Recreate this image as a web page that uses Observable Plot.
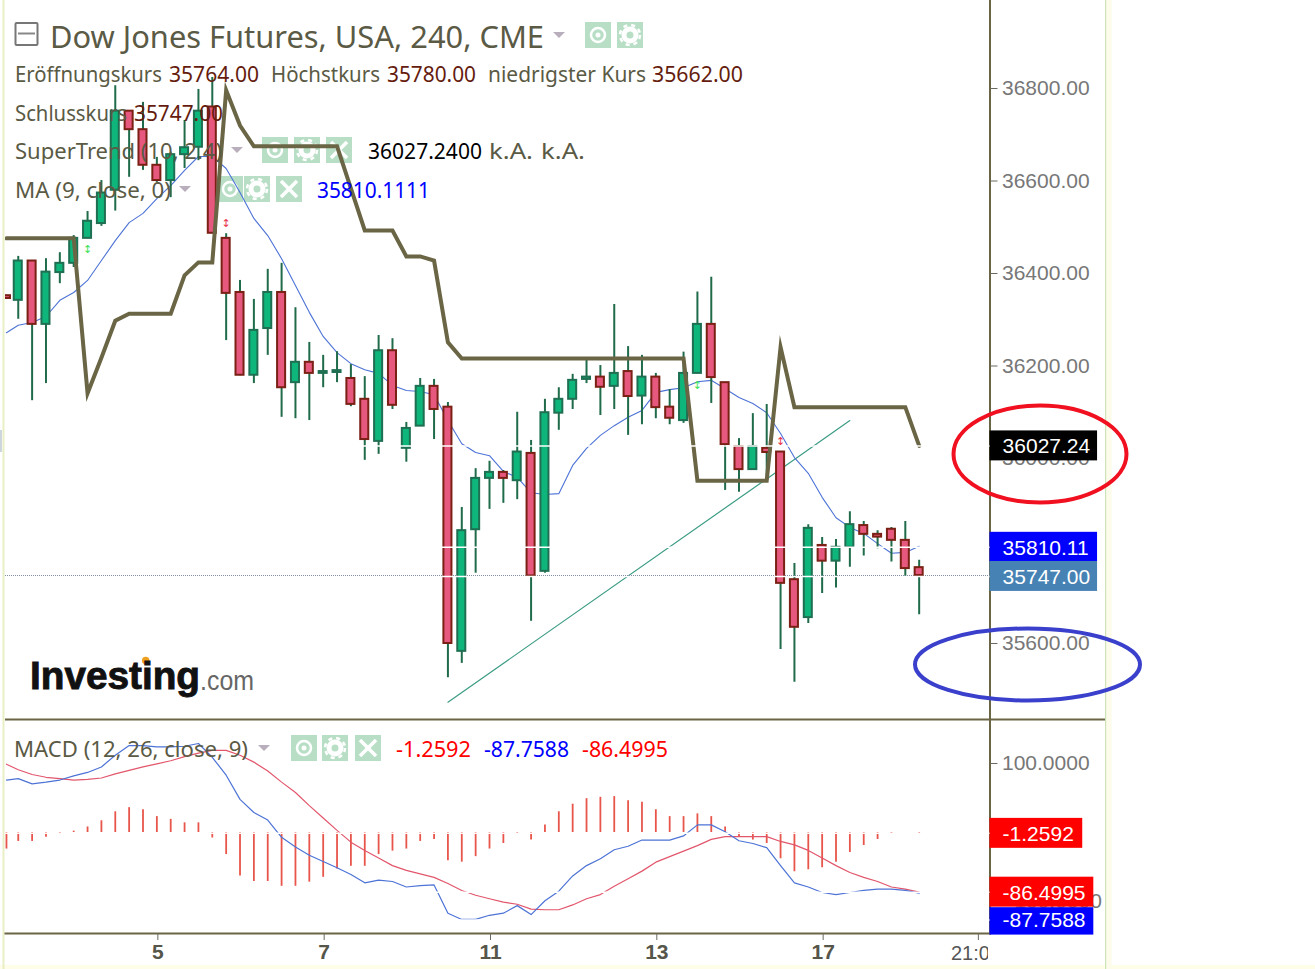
<!DOCTYPE html>
<html>
<head>
<meta charset="utf-8">
<script src="https://cdn.jsdelivr.net/npm/d3@7"></script>
<script src="https://cdn.jsdelivr.net/npm/@observablehq/plot@0.6"></script>
<style>
html,body{margin:0;padding:0;background:#fff;}
#page{position:relative;width:1315px;height:969px;overflow:hidden;background:#fff;}
#page>*{position:absolute;left:0;}
.t{position:absolute;white-space:pre;line-height:1;transform-origin:left center;}
</style>
</head>
<body>
<div id="page"></div>
<script>
// Candle index: 0 is the bar at tick "5"; 12 bars per labelled tick. The first bar sits at the chart's cut-off edge.
const barIndex = [-10.85].concat(d3.range(-10, 56));
const opens = [36352,36342,36427,36290,36402,36422,36476,36508,36580,36751,36711,36634,36601,36657,36673,36760,36476,36359,36180,36281,36359,36164,36208,36184,36186,36173,36128,36037,36233,36022,36070,36156,36111,35583,35846,35957,35970,35952,36011,35756,36098,36128,36171,36176,36156,36188,36135,36176,36111,36082,36184,36290,36164,36026,35976,36022,36014,35738,35656,35812,35778,35808,35855,35836,35847,35823,35764];
const highs = [36353,36437,36428,36432,36445,36482,36534,36601,36806,36752,36770,36651,36662,36731,36798,36824,36486,36385,36344,36409,36422,36326,36251,36223,36231,36203,36177,36266,36259,36078,36173,36171,36121,35894,35978,35994,35974,36100,36039,36128,36153,36182,36216,36201,36333,36242,36223,36184,36149,36230,36360,36392,36164,36043,36097,36117,36014,35773,35857,35829,35825,35885,35864,35844,35851,35864,35780];
const lows = [36345,36301,36125,36162,36378,36413,36476,36502,36535,36608,36623,36597,36564,36627,36644,36486,36255,36179,36162,36223,36089,36086,36082,36153,36164,36112,35996,36009,36106,35992,36070,36041,35526,35557,35752,35890,35903,35911,35648,35752,36061,36106,36162,36093,36106,36050,36073,36086,36073,36076,36184,36119,35931,35927,35976,35952,35587,35516,35643,35708,35720,35765,35789,35805,35776,35745,35662];
const closes = [36346,36427,36290,36403,36422,36476,36513,36574,36751,36711,36634,36601,36657,36672,36751,36487,36357,36180,36277,36359,36153,36208,36184,36188,36190,36117,36041,36233,36115,36065,36156,36106,35600,35844,35957,35970,35957,36014,35746,36099,36128,36169,36176,36154,36184,36134,36176,36110,36087,36184,36290,36175,36030,35976,36026,36013,35730,35635,35849,35778,35808,35857,35836,35830,35823,35762,35747];
const superTrend = [36476,36476,36476,36476,36476,36476,36141,36218,36298,36313,36313,36313,36313,36396,36424,36424,36796,36720,36675,36675,36675,36675,36675,36675,36675,36584,36493,36493,36493,36437,36437,36428,36251,36216,36216,36216,36216,36216,36216,36216,36216,36216,36216,36216,36216,36216,36216,36216,36216,36216,35952,35952,35952,35952,35952,35952,36241,36111,36111,36111,36111,36111,36111,36111,36111,36111,36027.24];
const movingAvg = [36272,36288,36294,36307,36342,36359,36385,36428,36471,36510,36530,36562,36590,36623,36653,36653,36627,36575,36519,36482,36432,36374,36316,36264,36229,36205,36192,36184,36158,36147,36145,36138,36082,36032,36013,36006,35972,35959,35926,35922,35924,35985,36022,36050,36071,36089,36104,36143,36149,36153,36166,36169,36151,36132,36119,36099,36054,36002,35968,35916,35872,35851,35838,35816,35795,35797,35810.11];
const macdLine = [76,78,70.5,73,76,82,87,95,112,126,126,124,124,125,129,109,83,48,29,18,-7,-21,-33,-42,-51,-61,-73,-69,-71,-79,-77,-76,-117,-126,-126,-120,-117,-106,-119,-99,-85,-63,-48,-38,-25,-20,-11,-11,-11,-5,11,11,1,-12,-16,-22,-48,-73,-79,-87,-90,-87,-84,-82,-82,-84,-87.7588];
const signalLine = [99,91,84,80,78,76,77,79,85,90,95,99.5,104,110,115,119,119,112,102,89,73,58,39,21,3,-14,-26,-37,-48,-55,-60,-65,-74,-84,-91,-96,-101,-104,-111,-112,-112,-105,-96,-90,-78,-67,-56,-43,-35,-27,-19,-10,-6,-6,-6,-6,-13,-18,-26,-37,-48,-58,-65,-71,-79,-82,-86.4995];
const histogram = [-24,-13,-13,-7,-3,2,8,17,30,36,33,23,19,14,14,-8,-32,-63,-71,-71,-78,-78,-72,-65,-53,-49,-49,-32,-27,-24,-13,-10,-41,-43,-35,-24,-16,-2,-11,11,30,41,49,51,52,46,44,33,23,23,27,23,8,-6,-11,-16,-38,-57,-54,-51,-43,-29,-19,-10,-3,0,-2.5];
const trendLine = [{i:21,p:35473},{i:50,p:36082}];
const arrowsUp = [{i:-5,p:36452},{i:39,p:36158}];
const arrowsDown = [{i:5,p:36509},{i:45,p:36037}];
const priceTicks = [36800,36600,36400,36200,36000,35600];
const macdTicks = [100,-100];
const lastPrice = 35747;
const priceBadges = [
  {label:"36027.24",slot:36027.24,color:"#000000",end:67.87},
  {label:"35810.11",slot:35808,color:"#0000ff",end:67.87},
  {label:"35747.00",slot:35745,color:"#4682b4",end:67.87}
];
const macdBadges = [
  {label:"-1.2592",slot:-1.2592,color:"#ff0000",end:66.8},
  {label:"-86.4995",slot:-86.4995,color:"#ff0000",end:67.6},
  {label:"-87.7588",slot:-127,color:"#0000ff",end:67.6}
];
const timeTicks = [0,12,24,36,48,59.2];
const timeLabels = ["5","7","11","13","17",""];

const candles = barIndex.map((i,k)=>({i,open:opens[k],high:highs[k],low:lows[k],close:closes[k],st:superTrend[k],ma:movingAvg[k],macd:macdLine[k],sig:signalLine[k],hist:histogram[k]}));
const up = candles.filter(d=>d.close>=d.open);
const down = candles.filter(d=>d.close<d.open);

const sans = "'Liberation Sans', Arial, sans-serif";
const xDomain = [-10.92,60.11];
const bodyHalf = 0.29;
const page = document.getElementById("page");

// --- layer 1: legend chrome under the chart
const under = d3.select(page).append("svg").attr("width",1315).attr("height",969).style("top","0");
under.append("rect").attr("x",0).attr("y",965).attr("width",1315).attr("height",4).attr("fill","#fdfde8");
under.append("rect").attr("x",2.5).attr("y",0).attr("width",2).attr("height",969).attr("fill","#e9efc4");
under.append("rect").attr("x",0).attr("y",430).attr("width",2).attr("height",22).attr("fill","#ccd6dc");
under.append("rect").attr("x",1105).attr("y",0).attr("width",1.5).attr("height",969).attr("fill","#cfe3b8");
under.append("rect").attr("x",1106.5).attr("y",0).attr("width",5).attr("height",969).attr("fill","#fdfbea");
function iconRow(y,xs,size){
  const kinds=["eye","gear","x"];
  xs.forEach((x,k)=>{
    const cx=x+size/2, cy=y+size/2, g=under.append("g");
    g.append("rect").attr("x",x).attr("y",y).attr("width",size).attr("height",size).attr("fill","#b8dfc6");
    if(kinds[k]==="eye"){
      g.append("circle").attr("cx",cx).attr("cy",cy).attr("r",7).attr("fill","none").attr("stroke","#fff").attr("stroke-width",2.5);
      g.append("circle").attr("cx",cx).attr("cy",cy).attr("r",2.5).attr("fill","#fff");
    } else if(kinds[k]==="gear"){
      g.append("circle").attr("cx",cx).attr("cy",cy).attr("r",6).attr("fill","none").attr("stroke","#fff").attr("stroke-width",5);
      g.append("circle").attr("cx",cx).attr("cy",cy).attr("r",10).attr("fill","none").attr("stroke","#fff").attr("stroke-width",2.5).attr("stroke-dasharray","4 4");
    } else {
      [[-8,-8,8,8],[-8,8,8,-8]].forEach(c=>g.append("line").attr("x1",cx+c[0]).attr("y1",cy+c[1]).attr("x2",cx+c[2]).attr("y2",cy+c[3]).attr("stroke","#fff").attr("stroke-width",3.5));
    }
  });
}
iconRow(22,[585,617],26);
iconRow(137,[262,294,326],26);
iconRow(176,[217,244,276],26);
iconRow(735,[291,322,355],26);
function tri(x,y){under.append("path").attr("d",`M${x},${y}h12l-6,6z`).attr("fill","#b9aebb");}
tri(553,32);tri(231,147);tri(179,186);tri(258,745);
under.append("rect").attr("x",15.5).attr("y",23).attr("width",22).attr("height",22).attr("rx",1).attr("fill","none").attr("stroke","#777").attr("stroke-width",2);
under.append("line").attr("x1",18).attr("x2",35).attr("y1",33.5).attr("y2",33.5).attr("stroke","#888").attr("stroke-width",2);

// --- layer 2: price panel
const pricePlot = Plot.plot({
  width:1315,height:720,marginLeft:5,marginRight:325.5,marginTop:0,marginBottom:0,
  style:{background:"transparent",fontFamily:sans,overflow:"visible"},
  x:{domain:xDomain,axis:null},
  y:{domain:[35433.5,36990.3],axis:null},
  marks:[
    Plot.line(trendLine,{x:"i",y:"p",stroke:"#3c9c84",strokeWidth:1.2}),
    Plot.ruleY([lastPrice],{stroke:"#5a6a8c",strokeWidth:1,strokeDasharray:"1,1"}),
    Plot.line(candles,{x:"i",y:"ma",stroke:"#4d73d6",strokeWidth:1.1,clip:true}),
    Plot.ruleX(candles,{x:"i",y1:"low",y2:"high",stroke:"#1f6b4a",strokeWidth:2,clip:true}),
    Plot.rect(up,{x1:d=>d.i-bodyHalf,x2:d=>d.i+bodyHalf,y1:"open",y2:"close",fill:"#0fb67c",stroke:"#1f6f52",strokeWidth:2}),
    Plot.rect(down,{x1:d=>d.i-bodyHalf,x2:d=>d.i+bodyHalf,y1:"open",y2:"close",fill:"#e6587e",stroke:"#7a2014",strokeWidth:2,clip:true}),
    Plot.line(candles,{x:"i",y:"st",stroke:"#6a6545",strokeWidth:4,strokeLinejoin:"miter",strokeMiterlimit:8,clip:true}),
    Plot.text(arrowsUp,{x:"i",y:"p",text:()=>"↕",fill:"#3fe05a",fontSize:11,fontFamily:"'DejaVu Sans'"}),
    Plot.text(arrowsDown,{x:"i",y:"p",text:()=>"↕",fill:"#e8334a",fontSize:11,fontFamily:"'DejaVu Sans'"}),
    Plot.frame({anchor:"right",stroke:"#6a6545",strokeWidth:2}),
    Plot.axisY(priceTicks,{anchor:"right",tickSize:7,tickPadding:5,stroke:"#6a6a60",fill:"#777",fontSize:21,fontFamily:sans,tickFormat:d3.format(".2f"),label:null}),
    Plot.rect(priceBadges,{x1:xDomain[1],x2:"end",y1:d=>d.slot+32.4,y2:d=>d.slot-32.4,fill:"color"}),
    Plot.tickY(priceBadges,{x1:xDomain[1],x2:60.66,y:"slot",stroke:"#fff",strokeWidth:1.5}),
    Plot.text(priceBadges,{x:61.02,y:"slot",dy:0.6,text:"label",textAnchor:"start",fill:"#fff",fontSize:21,fontFamily:sans})
  ]
});
pricePlot.style.top="0";pricePlot.style.position="absolute";page.appendChild(pricePlot);

// --- layer 2: MACD panel
const macdPlot = Plot.plot({
  width:1315,height:249,marginLeft:5,marginRight:325.5,marginTop:0,marginBottom:36,
  style:{background:"transparent",fontFamily:sans,overflow:"visible"},
  x:{domain:xDomain,axis:null},
  y:{domain:[-146.4,162.3],axis:null},
  marks:[
    Plot.ruleX(candles,{x:"i",y1:0,y2:"hist",stroke:"#e8554a",strokeWidth:1.8,clip:true}),
    Plot.line(candles,{x:"i",y:"sig",stroke:"#e2566c",strokeWidth:1.2,clip:true}),
    Plot.line(candles,{x:"i",y:"macd",stroke:"#4d73d6",strokeWidth:1.2,clip:true}),
    Plot.frame({anchor:"right",stroke:"#6a6545",strokeWidth:2}),
    Plot.frame({anchor:"bottom",stroke:"#6a6545",strokeWidth:2}),
    Plot.axisY(macdTicks,{anchor:"right",tickSize:7,tickPadding:5,stroke:"#6a6a60",fill:"#777",fontSize:21,fontFamily:sans,tickFormat:d3.format(".4f"),label:null}),
    Plot.axisX(timeTicks,{anchor:"bottom",dx:1,tickSize:7,tickPadding:4,stroke:"#6a6a60",fill:"#55554a",fontSize:21,fontWeight:"bold",fontFamily:sans,tickFormat:d=>timeLabels[timeTicks.indexOf(d)],label:null}),
    Plot.rect(macdBadges,{x1:xDomain[1],x2:"end",y1:d=>d.slot+(d.color==="#0000ff"?18:21.7),y2:d=>d.slot-21.7,fill:"color"}),
    Plot.tickY(macdBadges,{x1:xDomain[1],x2:60.66,y:"slot",stroke:"#fff",strokeWidth:1.5}),
    Plot.text(macdBadges,{x:61.02,y:"slot",dy:0.6,text:"label",textAnchor:"start",fill:"#fff",fontSize:21,fontFamily:sans})
  ]
});
macdPlot.style.top="720px";macdPlot.style.position="absolute";page.appendChild(macdPlot);

// --- layer 3: text and annotations above the chart
const over = d3.select(page).append("svg").attr("width",1315).attr("height",969).style("top","0").style("pointer-events","none");
over.append("rect").attr("x",5).attr("y",718.5).attr("width",1100).attr("height",2).attr("fill","#6a6545");
over.append("ellipse").attr("cx",1040).attr("cy",454).attr("rx",86.5).attr("ry",48.5).attr("fill","none").attr("stroke","#f01020").attr("stroke-width",4);
over.append("ellipse").attr("cx",1027.5).attr("cy",664.5).attr("rx",112.5).attr("ry",36).attr("fill","none").attr("stroke","#3a40cc").attr("stroke-width",4);
over.append("circle").attr("cx",145.7).attr("cy",660.5).attr("r",3.8).attr("fill","#f0a020");

function label(text,x0,x1,cy,size,color,family,weight,stroke){
  const s=document.createElement("span");
  s.className="t";s.textContent=text;
  s.style.cssText=`left:${x0}px;top:${cy-size/2}px;font-size:${size}px;color:${color};font-family:${family||"'Noto Sans'"};font-weight:${weight||400};`+(stroke?`-webkit-text-stroke:${stroke}px ${color};`:"");
  page.appendChild(s);
  const w=s.getBoundingClientRect().width;
  s.style.transform=`scaleX(${(x1-x0)/w})`;
  return s;
}
const ink="#5a5a45", maroon="#651c0e";
const rowSize=21.5;
label("Dow Jones Futures, USA, 240, CME",50,544,36,31,ink);
label("Eröffnungskurs",15,162,74,rowSize,ink);
label("35764.00",169,259,74,rowSize,maroon);
label("Höchstkurs",271,380,74,rowSize,ink);
label("35780.00",387,476,74,rowSize,maroon);
label("niedrigster Kurs",488,646,74,rowSize,ink);
label("35662.00",652,743,74,rowSize,maroon);
label("Schlusskurs",15,127,113,rowSize,ink);
label("35747.00",134,223,113,rowSize,maroon);
label("SuperTrend (10, 2.4)",15,222,151,rowSize,ink);
label("36027.2400",368,482,151,rowSize,"#000");
label("k.A.",489,533,151,rowSize,ink);
label("k.A.",541,585,151,rowSize,ink);
label("MA (9, close, 0)",15,171,190,rowSize,ink);
label("35810.1111",317,430,190,rowSize,"#0000ff");
label("MACD (12, 26, close, 9)",14,248,749,rowSize,ink);
label("-1.2592",396,471,749,rowSize,"#ff0000");
label("-87.7588",484,569,749,rowSize,"#0000ff");
label("-86.4995",582,668,749,rowSize,"#ff0000");
label("Investing",30,200,676,38,"#111",sans,700,0.9);
label(".com",200,254,681,27,"#666",sans,400);

// "21:00" is cut off by the edge of the chart, as in the original
const clip=document.createElement("div");
clip.style.cssText="left:940px;top:942px;width:48px;height:24px;overflow:hidden;";
const cut=document.createElement("span");
cut.className="t";cut.textContent="21:00";
cut.style.cssText=`left:11px;top:1px;font-size:20px;color:#555;font-family:${sans};`;
clip.appendChild(cut);page.appendChild(clip);
</script>
</body>
</html>
